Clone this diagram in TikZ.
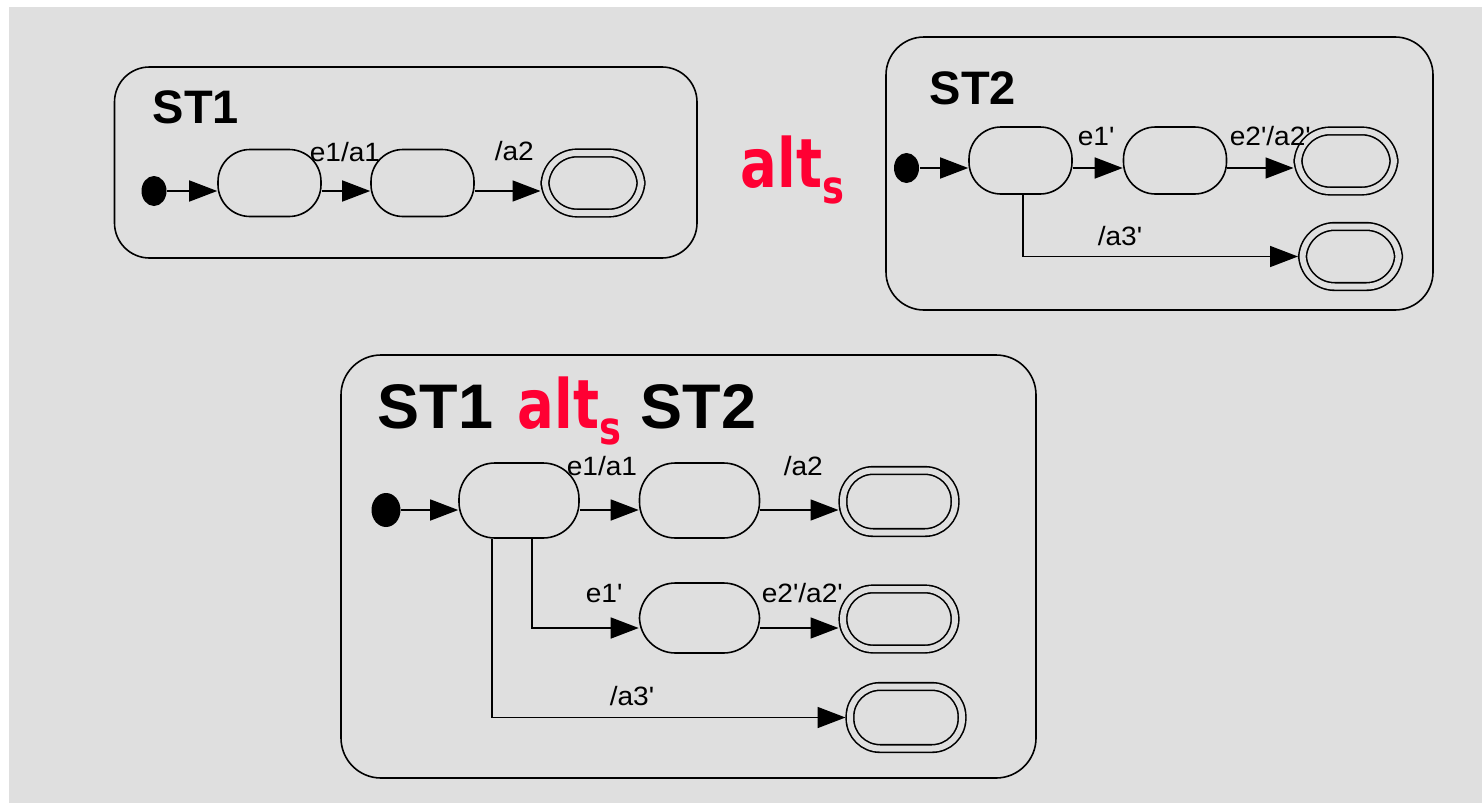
\documentclass[tikz,border=0pt]{standalone}
\usepackage{fontspec}
\setmainfont{Liberation Sans}
\newfontfamily\lblfont{Liberation Sans}[FakeStretch=1.06]
\newfontfamily\altfont{DejaVu Sans}[FakeStretch=0.8]
\usetikzlibrary{arrows.meta, shapes.geometric}
\definecolor{altred}{RGB}{255,0,51}
\definecolor{slidegray}{RGB}{223,223,223}
\newcommand{\altop}{{\altfont\bfseries\color{altred}\fontsize{68}{68}\selectfont alt\raisebox{-16pt}{\fontsize{46}{46}\selectfont s}}}

\begin{document}
\begin{tikzpicture}[x=1pt,y=-1pt,line width=1.6pt,
            st/.style={draw, rounded corners=32pt, minimum width=103pt, minimum height=67pt, inner sep=0pt},
            bigst/.style={st, rounded corners=36pt, minimum width=120pt, minimum height=75pt},
            fin/.style={st, double=slidegray, double distance=6pt, minimum width=96pt, minimum height=60pt, outer sep=4.5pt},
            bigfin/.style={fin, rounded corners=30pt, minimum width=112pt, minimum height=62pt},
            ini/.style={ellipse, fill=black, minimum width=25pt, minimum height=30pt, inner sep=0pt},
            tr/.style={-{Triangle[length=28pt,width=21pt]}},
            lbl/.style={anchor=base west, inner sep=0pt, font=\lblfont\fontsize{26.5}{26.5}\selectfont},
            ttl/.style={anchor=base west, inner sep=0pt, font=\bfseries\fontsize{47}{47}\selectfont},
            bigttl/.style={ttl, font=\bfseries\fontsize{63}{63}\selectfont}]
            \useasboundingbox (0,0) rectangle (1482,803);
            \fill[white] (0,0) rectangle (1482,803);
            \fill[slidegray] (9,7) rectangle (1482,803);

            % ST1
            \draw[rounded corners=35pt] (114.5,67) rectangle (697,258);
            \node[ttl] (t1) at (152,123) {ST1};
            \node[ini] (ini1) at (154,191) {};
            \node[st] (s1a) at (269.5,183) {};
            \node[st] (s1b) at (422.5,183) {};
            \node[fin] (s1end) at (593,183) {};
            \draw[tr] (ini1) -- (s1a.west |- ini1);
            \draw[tr] (s1a.east |- ini1) -- (s1b.west |- ini1);
            \draw[tr] (s1b.east |- ini1) -- (s1end.west |- ini1);
            \node[lbl] (l1a) at (309,161) {e1/a1};
            \node[lbl] (l1b) at (494,160) {/a2};

            \node[anchor=base west, inner sep=0pt] (op) at (740,187) {\altop};

            % ST2
            \draw[rounded corners=38pt] (886,37) rectangle (1433,310);
            \node[ttl] (t2) at (929,104) {ST2};
            \node[ini] (ini2) at (906.5,168) {};
            \node[st] (s2a) at (1020.5,160.5) {};
            \node[st] (s2b) at (1175,160.5) {};
            \node[fin] (s2end) at (1346,161) {};
            \node[fin] (s2alt) at (1350.5,256.5) {};
            \draw[tr] (ini2) -- (s2a.west |- ini2);
            \draw[tr] (s2a.east |- ini2) -- (s2b.west |- ini2);
            \draw[tr] (s2b.east |- ini2) -- (s2end.west |- ini2);
            \draw[tr] ([xshift=2.5pt]s2a.south) |- (s2alt.west);
            \node[lbl] (l2a) at (1077,145) {e1'};
            \node[lbl] (l2b) at (1229,145) {e2'/a2'};
            \node[lbl] (l2c) at (1097,245) {/a3'};

            % ST1 alt_s ST2
            \draw[rounded corners=40pt] (341,355) rectangle (1036,778);
            \node[bigttl] (t3a) at (377,428) {ST1};
            \node[anchor=base west, inner sep=0pt] (t3b) at (517,428) {\altop};
            \node[bigttl] (t3c) at (640,428) {ST2};
            \node[ini, minimum width=29pt, minimum height=34pt] (ini3) at (386,510) {};
            \node[bigst] (s3a) at (519,500.5) {};
            \node[bigst] (s3b) at (699.5,500.5) {};
            \node[bigfin] (s3end) at (899,501.5) {};
            \node[bigst, minimum height=70pt] (s3c) at (699.5,618) {};
            \node[bigfin, minimum height=60pt] (s3cend) at (899,619) {};
            \node[bigfin] (s3alt) at (906,717.5) {};
            \coordinate (r2) at (600,628);
            \draw[tr] (ini3) -- (s3a.west |- ini3);
            \draw[tr] (s3a.east |- ini3) -- (s3b.west |- ini3);
            \draw[tr] (s3b.east |- ini3) -- (s3end.west |- ini3);
            \draw[tr] ([xshift=13pt]s3a.south) |- (s3c.west |- r2);
            \draw[tr] (s3c.east |- r2) -- (s3cend.west |- r2);
            \draw[tr] ([xshift=-27pt]s3a.south) |- (s3alt.west);
            \node[lbl] (l3a) at (566,475) {e1/a1};
            \node[lbl] (l3b) at (783,475) {/a2};
            \node[lbl] (l3c) at (585,602) {e1'};
            \node[lbl] (l3d) at (761,602) {e2'/a2'};
            \node[lbl] (l3e) at (609,705) {/a3'};
\end{tikzpicture}
\end{document}
